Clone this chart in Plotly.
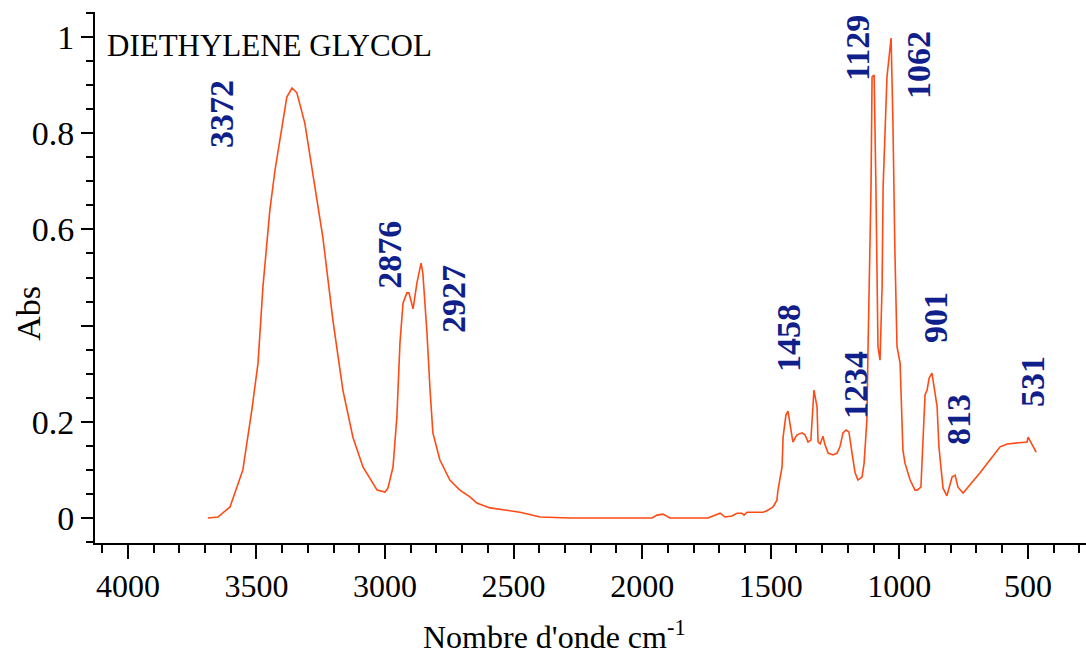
import plotly.graph_objects as go

# Spectrum (wavenumber cm-1, absorbance)
wavenumber = [3689, 3650, 3603, 3553, 3518, 3494, 3475, 3448, 3428, 3401, 3382, 3362, 3343, 3312,
              3280, 3242, 3203, 3164, 3125, 3086, 3031, 3000, 2989, 2969, 2954, 2942, 2930, 2915,
              2907, 2891, 2876, 2860, 2853, 2837, 2825, 2814, 2787, 2748, 2709, 2670, 2643, 2592,
              2475, 2397, 2281, 1962, 1942, 1919, 1892, 1744, 1725, 1697, 1678, 1651, 1631, 1612,
              1604, 1592, 1530, 1515, 1491, 1476, 1472, 1456, 1452, 1441, 1433, 1421, 1414, 1398,
              1378, 1367, 1355, 1344, 1332, 1320, 1316, 1308, 1297, 1289, 1277, 1258, 1242, 1231,
              1219, 1207, 1196, 1180, 1172, 1161, 1145, 1137, 1126, 1122, 1110, 1106, 1098, 1091,
              1083, 1075, 1067, 1063, 1052, 1048, 1032, 1025, 1017, 1009, 997, 986, 978, 958, 939,
              931, 916, 900, 892, 884, 873, 869, 853, 846, 830, 815, 795, 783, 772, 752, 725, 686,
              647, 608, 581, 542, 503, 499, 484, 468]
absorbance = [0.000, 0.002, 0.023, 0.100, 0.225, 0.322, 0.480, 0.640, 0.723, 0.813, 0.875, 0.894,
              0.884, 0.821, 0.717, 0.584, 0.412, 0.266, 0.168, 0.106, 0.058, 0.054, 0.062, 0.106,
              0.210, 0.364, 0.447, 0.468, 0.468, 0.435, 0.489, 0.530, 0.509, 0.385, 0.266, 0.177,
              0.121, 0.079, 0.058, 0.044, 0.031, 0.021, 0.012, 0.002, 0.000, 0.000, 0.006, 0.008,
              0.000, 0.000, 0.004, 0.010, 0.002, 0.004, 0.010, 0.010, 0.006, 0.012, 0.012, 0.015,
              0.023, 0.037, 0.058, 0.106, 0.168, 0.214, 0.222, 0.183, 0.158, 0.173, 0.177, 0.173,
              0.158, 0.162, 0.266, 0.231, 0.158, 0.154, 0.170, 0.152, 0.135, 0.131, 0.135, 0.148,
              0.177, 0.183, 0.179, 0.121, 0.094, 0.079, 0.085, 0.114, 0.204, 0.343, 0.688, 0.917,
              0.921, 0.688, 0.356, 0.328, 0.480, 0.688, 0.890, 0.917, 0.998, 0.827, 0.551, 0.356,
              0.322, 0.141, 0.114, 0.079, 0.058, 0.058, 0.064, 0.256, 0.266, 0.291, 0.301, 0.287,
              0.231, 0.148, 0.062, 0.046, 0.085, 0.089, 0.064, 0.052, 0.069, 0.094, 0.121, 0.148,
              0.154, 0.156, 0.158, 0.168, 0.152, 0.137]

# Peak labels and their anchor positions (wavenumber, absorbance)
peak_labels = ["3372", "2876", "2927", "1458", "1234", "1129", "1062", "901", "813", "531"]
peak_label_x = [3634, 2981, 2736, 1433, 1168, 1165, 923, 857, 768, 480]
peak_label_y = [0.840, 0.547, 0.455, 0.374, 0.277, 0.977, 0.942, 0.416, 0.206, 0.283]

x_ticks = [4000, 3500, 3000, 2500, 2000, 1500, 1000, 500]
y_ticks = [0, 0.2, 0.4, 0.6, 0.8, 1]
y_tick_text = ["0", "0.2", "", "0.6", "0.8", "1"]

FONT = "Liberation Serif, Times New Roman, serif"

fig = go.Figure()
fig.add_trace(go.Scatter(x=wavenumber, y=absorbance, mode="lines",
                         line=dict(color="#ff4a14", width=1.6), showlegend=False,
                         hoverinfo="skip"))

for lab, lx, ly in zip(peak_labels, peak_label_x, peak_label_y):
    fig.add_annotation(x=lx, y=ly, xref="x", yref="y", text="<b>" + lab + "</b>",
                       textangle=-90, showarrow=False, xanchor="center", yanchor="middle",
                       font=dict(family=FONT, size=34, color="#10208a"))

fig.add_annotation(x=0.010, y=0.936, xref="paper", yref="paper", text="DIETHYLENE GLYCOL",
                   xanchor="left", yanchor="middle", showarrow=False,
                   font=dict(family=FONT, size=31, color="black"))
fig.add_annotation(x=-0.068, y=0.433, xref="paper", yref="paper", text="Abs",
                   textangle=-90, showarrow=False, xanchor="center", yanchor="middle",
                   font=dict(family=FONT, size=34, color="black"))
fig.add_annotation(x=0.464, y=-0.173, xref="paper", yref="paper",
                   text="Nombre d'onde cm<sup>-1</sup>", showarrow=False,
                   xanchor="center", yanchor="middle",
                   font=dict(family=FONT, size=32, color="black"))

fig.update_layout(
    width=1086, height=657,
    margin=dict(l=95, r=0, t=12, b=114),
    paper_bgcolor="white", plot_bgcolor="white",
    xaxis=dict(range=[4128, 274], tickvals=x_ticks, ticks="outside", ticklen=14,
               tickwidth=2, tickcolor="black", showline=True, linecolor="black",
               linewidth=2, showgrid=False, zeroline=False,
               tickfont=dict(family=FONT, size=32, color="black"),
               minor=dict(dtick=100, ticks="outside", ticklen=8, tickwidth=2,
                          tickcolor="black", showgrid=False)),
    yaxis=dict(range=[-0.052, 1.052], tickvals=y_ticks, ticktext=y_tick_text,
               ticks="outside", ticklen=12, tickwidth=2, tickcolor="black",
               showline=True, linecolor="black", linewidth=2, showgrid=False,
               zeroline=False, tickfont=dict(family=FONT, size=34, color="black"),
               minor=dict(dtick=0.05, ticks="outside", ticklen=7, tickwidth=2,
                          tickcolor="black", showgrid=False)),
)

fig.write_html("out.html")
